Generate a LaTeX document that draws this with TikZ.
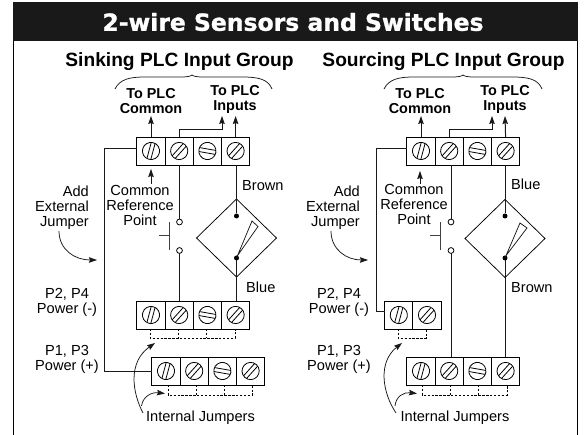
\documentclass[tikz,border=0pt]{standalone}
\usepackage{fontspec}
\setmainfont{Liberation Sans}
\newfontfamily\bannerfont{DejaVu Sans}[BoldFeatures={FakeBold=1.2}]
\usetikzlibrary{arrows.meta,shapes.geometric}

\tikzset{
  wire/.style={line width=1pt,draw=black!90},
  thinline/.style={line width=0.75pt,draw=black!90},
  upwire/.style={wire,-{Stealth[length=8pt,width=5.5pt,inset=1pt]}},
  curvearrow/.style={thinline,-{Stealth[length=8pt,width=5.5pt,inset=1pt]}},
  jumper/.style={line width=0.6pt,dash pattern=on 2.4pt off 1.5pt},
  cellbox/.style={draw,line width=0.95pt,rectangle,minimum width=28.2pt,minimum height=28pt,inner sep=0pt,outer sep=0pt},
  contact/.style={draw,line width=0.8pt,circle,fill=white,minimum size=5.8pt,inner sep=0pt,outer sep=0pt},
  blackdot/.style={circle,fill=black,minimum size=5pt,inner sep=0pt,outer sep=0pt},
  sensorbox/.style={draw,line width=0.75pt,diamond,minimum width=80pt,minimum height=78pt,inner sep=0pt,outer sep=0pt},
  heading/.style={font=\bfseries\fontsize{19.2}{22}\selectfont,inner sep=0pt},
  plctext/.style={font=\bfseries\fontsize{14.4}{14.8}\selectfont,align=center,inner sep=0pt},
  plain/.style={font=\fontsize{14.6}{15}\selectfont,align=center,inner sep=0pt},
  rightplain/.style={font=\fontsize{14.6}{15}\selectfont,align=right,inner sep=0pt,anchor=east},
  leftplain/.style={font=\fontsize{14.6}{15}\selectfont,inner sep=0pt,anchor=west},
}

% one terminal: name, position, slot angle
\newcommand{\screwcell}[3]{
  \node[cellbox] (#1) at (#2) {};
  \begin{scope}[shift={(#2)},rotate=#3,line width=0.8pt]
    \draw (0,0) circle (8.6);
    \draw (-8.2,-2) -- (8.2,-2);
    \draw (-8.2,2) -- (8.2,2);
  \end{scope}
}

\begin{document}
\begin{tikzpicture}[x=1pt,y=-1pt]
\useasboundingbox (0,0) rectangle (584,435);

% frame and title
\draw[line width=1pt] (13.5,30) -- (13.5,435);
\draw[line width=1pt] (577,30) -- (577,435);
\fill[black!90] (13,2.5) rectangle (577.5,41);
\node[text=white,font=\bannerfont\bfseries\fontsize{23.5}{26}\selectfont,inner sep=0pt] (title) at (293,22) {2-wire Sensors and Switches};

% left group
\node[heading] (headL) at (179.5,62) {Sinking PLC Input Group};
\draw[thinline] (115,89) .. controls (120,79) and (130,77) .. (145,77) -- (182,77) .. controls (188,77) and (191,76) .. (192,75) .. controls (193,76) and (196,77) .. (202,77) -- (242,77) .. controls (258,77) and (268,79) .. (272,89);
\node[plctext] (commonL) at (151,101) {To PLC\\Common};
\node[plctext] (inputsL) at (235,99.5) {To PLC\\Inputs};

\foreach \n/\x/\a in {1/151/75,2/179.2/48,3/207.4/-10,4/235.6/48}
  {\screwcell{t\n}{\x,151}{\a}}
\foreach \n/\x/\a in {1/151/75,2/179.2/48,3/207.4/-10,4/235.6/48}
  {\screwcell{m\n}{\x,315}{\a}}
\foreach \n/\x/\a in {1/166/75,2/194.2/48,3/222.4/-10,4/250.6/48}
  {\screwcell{b\n}{\x,371}{\a}}

\coordinate (tipA) at (151,116);
\coordinate (tipB) at (222,116);
\coordinate (tipC) at (235.6,116);
\draw[upwire] (t1.north) -- (tipA);
\draw[upwire] (t2.north) |- (222,130) -- (tipB);
\draw[upwire] (t4.north) -- (tipC);

\draw[wire] (t1.west |- 0,149) -| (104,372) -- (b1.west |- 0,372);

\node[plain] (refL) at (140,205.5) {Common\\Reference\\Point};
\coordinate (refTailL) at (151,184);
\coordinate (refTipL) at (151,169);
\draw[upwire,line width=0.7pt] (refTailL) -- (refTipL);
\node[rightplain] (addL) at (89,207.5) {Add\\External\\Jumper};
\coordinate (addTailL) at (59,231);
\coordinate (addTipL) at (97,260);
\draw[curvearrow] (addTailL) .. controls (59,250) and (75,260) .. (addTipL);

\node[contact] (swTopL) at (179.5,222) {};
\node[contact] (swBotL) at (179.5,250.5) {};
\draw[wire] (swTopL |- t2.south) -- (swTopL);
\draw[wire] (swBotL) -- (swBotL |- m2.north);
\coordinate (barTopL) at (169,222);
\coordinate (barBotL) at (169,250);
\coordinate (stemL) at (159,236);
\draw[line width=1pt,draw=black!75] (barTopL) -- (barBotL);
\draw[line width=1pt,draw=black!75] (stemL) -- (barTopL |- stemL);

\node[sensorbox] (sensorL) at (236.5,238) {};
\node[blackdot] (dotTopL) at (236.5,216) {};
\node[blackdot] (dotBotL) at (236.5,258) {};
\draw[wire] (sensorL.north |- t4.south) -- (sensorL.north);
\draw[thinline] (sensorL.north) -- (dotTopL);
\draw[wire] (dotBotL) -- (dotBotL |- m4.north);
\draw[thinline] (dotBotL) -- (252,221) -- (258,226.5) -- cycle;
\node[leftplain] (brownL) at (242,186) {Brown};
\node[leftplain] (blueL) at (246,287) {Blue};

\node[plain] (p24L) at (67,302) {P2, P4\\Power (-)};
\node[plain] (p13L) at (67,359.5) {P1, P3\\Power (+)};

\draw[jumper] (150,329) -- (150,338) -- (235,338) -- (235,329);
\draw[jumper] (178,329) -- (178,338);
\draw[jumper] (206,329) -- (206,338);
\draw[jumper] (168,385) -- (168,395) -- (252.5,395) -- (252.5,385);
\draw[jumper] (196,385) -- (196,395);
\draw[jumper] (224,385) -- (224,395);

\node[plain] (intL) at (200.5,418) {Internal Jumpers};
\coordinate (tipJ1) at (155,343);
\coordinate (tipJ2) at (165,393.5);
\draw[curvearrow] (143,413) .. controls (132,392) and (128,362) .. (tipJ1);
\draw[curvearrow] (141.5,406) .. controls (143,396) and (152,392) .. (tipJ2);

% right group
\node[heading] (headR) at (443.5,62) {Sourcing PLC Input Group};
\draw[thinline] (384,89) .. controls (389,79) and (399,77) .. (414,77) -- (453,77) .. controls (459,77) and (462,76) .. (463,75) .. controls (464,76) and (467,77) .. (473,77) -- (512,77) .. controls (528,77) and (538,79) .. (542,89);
\node[plctext] (commonR) at (420,101) {To PLC\\Common};
\node[plctext] (inputsR) at (505,99.5) {To PLC\\Inputs};

\foreach \n/\x/\a in {1/421/75,2/449.2/48,3/477.4/-10,4/505.6/48}
  {\screwcell{st\n}{\x,151}{\a}}
\foreach \n/\x/\a in {1/398.8/75,2/427/48}
  {\screwcell{sm\n}{\x,315}{\a}}
\foreach \n/\x/\a in {1/421/75,2/449.2/48,3/477.4/-10,4/505.6/48}
  {\screwcell{sb\n}{\x,371}{\a}}

\coordinate (tipD) at (421,116);
\coordinate (tipE) at (492,116);
\coordinate (tipF) at (505,116);
\draw[upwire] (st1.north) -- (tipD);
\draw[upwire] (st2.north) |- (492,130) -- (tipE);
\draw[upwire] (st4.north) -- (tipF);

\draw[wire] (st1.west |- 0,149) -| (376,312) -- (sm1.west |- 0,312);

\node[plain] (refR) at (414,204.5) {Common\\Reference\\Point};
\coordinate (refTailR) at (420,184);
\coordinate (refTipR) at (420,171);
\draw[upwire,line width=0.7pt] (refTailR) -- (refTipR);
\node[rightplain] (addR) at (360,207.5) {Add\\External\\Jumper};
\coordinate (addTailR) at (331,231);
\coordinate (addTipR) at (368,260);
\draw[curvearrow] (addTailR) .. controls (331,250) and (347,260) .. (addTipR);

\node[contact] (swTopR) at (451,222) {};
\node[contact] (swBotR) at (451,250.5) {};
\draw[wire] (swTopR |- st2.south) -- (swTopR);
\draw[wire] (swBotR) -- (swBotR |- sb2.north);
\coordinate (barTopR) at (440,222);
\coordinate (barBotR) at (440,250);
\coordinate (stemR) at (430,236);
\draw[line width=1pt,draw=black!75] (barTopR) -- (barBotR);
\draw[line width=1pt,draw=black!75] (stemR) -- (barTopR |- stemR);

\node[sensorbox] (sensorR) at (505,238.5) {};
\node[blackdot] (dotTopR) at (505,216) {};
\node[blackdot] (dotBotR) at (505,258) {};
\draw[wire] (sensorR.north |- st4.south) -- (sensorR.north);
\draw[thinline] (sensorR.north) -- (dotTopR);
\draw[wire] (dotBotR) -- (dotBotR |- sb4.north);
\draw[thinline] (dotBotR) -- (520,223) -- (527,228) -- cycle;
\node[leftplain] (blueR) at (511,184) {Blue};
\node[leftplain] (brownR) at (511,288) {Brown};

\node[plain] (p24R) at (339,302) {P2, P4\\Power (-)};
\node[plain] (p13R) at (339,359.5) {P1, P3\\Power (+)};

\draw[jumper] (398,329) -- (398,338) -- (426,338) -- (426,329);
\draw[jumper] (422,385) -- (422,395) -- (507,395) -- (507,385);
\draw[jumper] (450,385) -- (450,395);
\draw[jumper] (478,385) -- (478,395);

\node[plain] (intR) at (455,418) {Internal Jumpers};
\coordinate (tipJ3) at (402,343);
\coordinate (tipJ4) at (417,393.5);
\draw[curvearrow] (396,413) .. controls (382,392) and (378,362) .. (tipJ3);
\draw[curvearrow] (395,406) .. controls (396,396) and (404,392) .. (tipJ4);

\end{tikzpicture}
\end{document}
